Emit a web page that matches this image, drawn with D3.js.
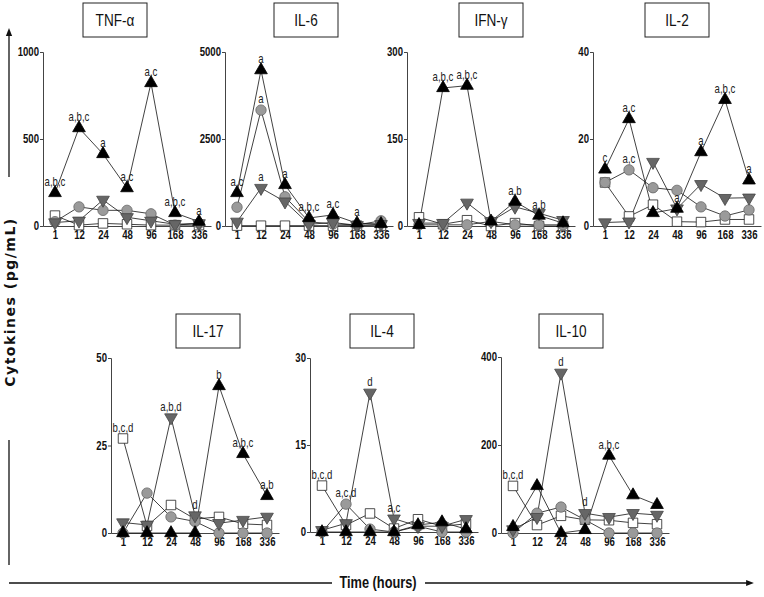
<!DOCTYPE html>
<html><head><meta charset="utf-8">
<script src="https://cdn.jsdelivr.net/npm/d3@7"></script>
<style>
body{margin:0;background:#fff;}
svg{display:block;}
.tick text{font-family:"Liberation Sans","Arial",sans-serif;font-weight:bold;font-size:12px;fill:#111;}
</style></head><body>
<svg id="chart" width="764" height="597"></svg>
<script>
const times = ["1","12","24","48","96","168","336"];
const panelNames = ["TNF-α","IL-6","IFN-γ","IL-2","IL-17","IL-4","IL-10"];
const yMax = [1000,5000,300,40,50,30,400];
const yTicks = [[0,500,1000],[0,2500,5000],[0,150,300],[0,20,40],[0,25,50],[0,15,30],[0,200,400]];

// series values (pg/mL), one row per panel, one value per time point
const blackTri = [
  [190,563,414,218,822,75,25],
  [950,4480,1180,230,320,80,60],
  [2,238,242,8,42,18,5],
  [13,24.6,3,4,17,29,10.5],
  [0,0,0,0,42,22.6,10.6],
  [0,0,0,0,1.2,1.7,0.5],
  [14,107,0,7,176,86,64]
];
const grayCircle = [
  [25,110,90,90,70,5,15],
  [540,3330,840,120,60,30,150],
  [2,2,2,8,2,2,2],
  [10,12.9,8.8,8.2,4.4,2.3,3.7],
  [0,11.4,4.6,3.3,0,0,0],
  [0,4.8,0.5,0,1,0,0],
  [0,45,59,30,0,0,0]
];
const darkTri = [
  [20,30,150,50,30,10,15],
  [120,1090,700,50,100,20,50],
  [5,5,40,8,33,22,10],
  [0.8,1,14.7,4,9.6,6.4,6.5],
  [3,2.3,33,5,2.8,3.7,4.6],
  [0.3,1.5,24,2.3,1,1,2.2],
  [8,36,364,45,36,45,41]
];
const whiteSquare = [
  [60,5,15,10,5,5,5],
  [10,10,10,10,10,10,10],
  [15,3,10,0,5,0,0],
  [10,2.2,4.9,1,0.9,1.5,1.5],
  [27,2,8,4,4.6,2.6,2.3],
  [8,1.2,3.2,0.6,2.2,1,1.4],
  [107,18,39,30,29,23,20]
];
// significance letters: [panel, time index, series, text]
const annotations = [
  [0,0,"bt","a,b,c"],[0,1,"bt","a,b,c"],[0,2,"bt","a"],[0,3,"bt","a,c"],[0,4,"bt","a,c"],[0,5,"bt","a,b,c"],[0,6,"bt","a"],
  [1,0,"bt","a,c"],[1,1,"bt","a"],[1,1,"gc","a"],[1,1,"dt","a"],[1,2,"bt","a"],[1,3,"bt","a,b,c"],[1,4,"bt","a,c"],[1,5,"bt","a"],
  [2,1,"bt","a,b,c"],[2,2,"bt","a,b,c"],[2,4,"bt","a,b"],[2,5,"bt","a,b"],
  [3,0,"bt","c"],[3,1,"bt","a,c"],[3,1,"gc","a,c"],[3,3,"bt","a"],[3,4,"bt","a"],[3,5,"bt","a,b,c"],[3,6,"bt","a"],
  [4,0,"ws","b,c,d"],[4,2,"dt","a,b,d"],[4,3,"dt","d"],[4,4,"bt","b"],[4,5,"bt","a,b,c"],[4,6,"bt","a,b"],
  [5,0,"ws","b,c,d"],[5,1,"gc","a,c,d"],[5,2,"dt","d"],[5,3,"dt","a,c"],
  [6,0,"ws","b,c,d"],[6,2,"dt","d"],[6,3,"dt","d"],[6,4,"bt","a,b,c"]
];

// layout (pixels): axis origin x, top-of-axis y, zero y, title box x
const layout = [
  {x:43, top:52, bottom:226, box:83, boxY:3},
  {x:225, top:52, bottom:226, box:274, boxY:3},
  {x:407, top:52, bottom:226, box:459, boxY:3},
  {x:593, top:52, bottom:226, box:645, boxY:3},
  {x:111, top:358, bottom:533, box:176, boxY:314},
  {x:310, top:358, bottom:532, box:350, boxY:314},
  {x:501, top:357, bottom:533, box:539, boxY:314}
];
const panelW = 168;
const SQ = 0.8; // horizontal squeeze to mimic a condensed face

const svg = d3.select("#chart");
const sans = '"Liberation Sans",Arial,sans-serif';

function narrowText(parent, x, y, txt, size, weight, anchor){
  return parent.append("text").attr("transform",`translate(${x},${y}) scale(${SQ},1)`)
    .attr("text-anchor",anchor||"middle").attr("font-family",sans).attr("font-size",size)
    .attr("font-weight",weight||"normal").attr("fill","#111").text(txt);
}

const seriesDefs = [
  {key:"ws", data:whiteSquare, sym:d3.symbolSquare, size:90, fill:"#fff", stroke:"#222", rot:0},
  {key:"gc", data:grayCircle, sym:d3.symbolCircle, size:85, fill:"#9a9a9a", stroke:"#666", rot:0},
  {key:"dt", data:darkTri, sym:d3.symbolTriangle, size:70, fill:"#666", stroke:"#444", rot:180},
  {key:"bt", data:blackTri, sym:d3.symbolTriangle, size:70, fill:"#000", stroke:"#000", rot:0}
];

panelNames.forEach((name,p)=>{
  const L = layout[p];
  const g = svg.append("g");
  const x = d3.scalePoint().domain(times).range([L.x, L.x+panelW]).padding(0.5);
  const y = d3.scaleLinear().domain([0,yMax[p]]).range([L.bottom, L.top]);

  // title box
  g.append("rect").attr("x",L.box).attr("y",L.boxY).attr("width",64).attr("height",34)
    .attr("fill","#fff").attr("stroke","#222").attr("stroke-width",1);
  narrowText(g, L.box+32, L.boxY+23, name, 17);

  // axes
  const ya = g.append("g").attr("transform",`translate(${L.x},0)`)
    .call(d3.axisLeft(y).tickValues(yTicks[p]).tickSize(3).tickPadding(1).tickFormat(d3.format("d")));
  ya.select(".domain").attr("stroke","#444");
  ya.selectAll(".tick line").attr("stroke","#444");
  ya.selectAll(".tick text").attr("transform",`scale(${SQ},1)`).attr("x",-4/SQ);
  const xa = g.append("g").attr("transform",`translate(0,${L.bottom})`)
    .call(d3.axisBottom(x).tickSize(0).tickPadding(4));
  xa.select(".domain").attr("stroke","#444");
  xa.selectAll(".tick text").attr("transform",`scale(${SQ},1)`);

  // lines and markers
  seriesDefs.forEach(s=>{
    const vals = s.data[p];
    const line = d3.line().x((d,i)=>x(times[i])).y(d=>y(d));
    g.append("path").attr("d",line(vals)).attr("fill","none").attr("stroke","#111").attr("stroke-width",0.8);
  });
  seriesDefs.forEach(s=>{
    const vals = s.data[p];
    g.selectAll(null).data(vals).enter().append("path")
      .attr("d",d3.symbol().type(s.sym).size(s.size))
      .attr("transform",(d,i)=>`translate(${x(times[i])},${y(d)}) rotate(${s.rot})`)
      .attr("fill",s.fill).attr("stroke",s.stroke).attr("stroke-width",0.8);
  });

  // annotations
  annotations.filter(a=>a[0]===p).forEach(a=>{
    const s = seriesDefs.find(d=>d.key===a[2]);
    const v = s.data[p][a[1]];
    narrowText(g, x(times[a[1]]), y(v)-7, a[3], 12).attr("fill","#222");
  });
});

// Y title and arrows
svg.append("defs").append("marker").attr("id","arrow").attr("viewBox","0 0 10 10")
  .attr("refX",5).attr("refY",5).attr("markerWidth",6).attr("markerHeight",6).attr("orient","auto-start-reverse")
  .append("path").attr("d","M0,1 L10,5 L0,9 Z").attr("fill","#111");

svg.append("line").attr("x1",9).attr("x2",9).attr("y1",177).attr("y2",32)
  .attr("stroke","#111").attr("stroke-width",1.3).attr("marker-end","url(#arrow)");
svg.append("line").attr("x1",9).attr("x2",9).attr("y1",440).attr("y2",565)
  .attr("stroke","#111").attr("stroke-width",1.3);
svg.append("text").attr("transform","translate(15,302) rotate(-90)").attr("text-anchor","middle")
  .attr("font-family","'DejaVu Sans',Verdana,sans-serif").attr("font-weight","bold").attr("font-size",14)
  .attr("letter-spacing",1.5).attr("fill","#111").text("Cytokines (pg/mL)");

svg.append("line").attr("x1",9).attr("x2",332).attr("y1",583).attr("y2",583).attr("stroke","#111").attr("stroke-width",1.3);
svg.append("line").attr("x1",425).attr("x2",750).attr("y1",583).attr("y2",583)
  .attr("stroke","#111").attr("stroke-width",1.3).attr("marker-end","url(#arrow)");
narrowText(svg, 378, 588, "Time (hours)", 16, "bold");
</script></body></html>
